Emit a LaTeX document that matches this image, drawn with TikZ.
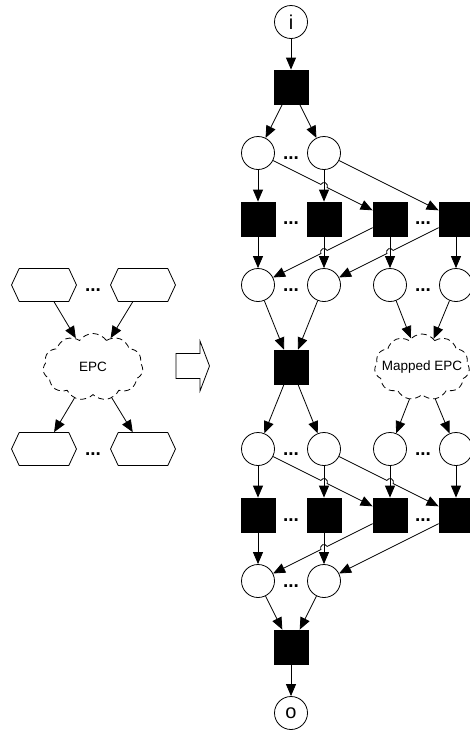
\documentclass[tikz,border=0pt]{standalone}
\usepackage{fontspec}
\setmainfont{Liberation Sans}
\usetikzlibrary{arrows.meta,shapes.symbols,calc}
\newcommand\hoparrow[4]{\draw[arr] let \p1=($(#2)-(#1)$), \n1={atan2(\y1,\x1)} in (#1) -- ($(#3)!3.5pt!(#1)$) arc[start angle=\n1+180, delta angle=#4*180, radius=3.5pt] -- (#2);}
\begin{document}
\begin{tikzpicture}[x=1pt,y=1pt,
 place/.style={circle,draw,line width=0.8pt,minimum size=33pt,inner sep=0pt},
 trans/.style={rectangle,draw,fill=black,line width=0.8pt,minimum size=34pt,inner sep=0pt},
 arr/.style={line width=0.8pt,-{Triangle[length=12pt,width=10pt]}},
 dots/.style={font=\fontsize{19}{19}\selectfont\bfseries,inner sep=0pt},
 hexa/.style={signal,signal to=west and east,signal pointer angle=130,draw,line width=0.8pt,minimum width=65pt,minimum height=33pt,inner sep=0pt},
 epc/.style={cloud,cloud puffs=11,cloud puff arc=110,cloud ignores aspect,draw,dash pattern=on 6pt off 4pt,line width=0.8pt,inner sep=0pt},
 lbl/.style={font=\fontsize{13.5}{16}\selectfont,inner sep=0pt},
 io/.style={font=\fontsize{20}{20}\selectfont}
]
\useasboundingbox (0,0) rectangle (470,-734);

% ---------- left side ----------
\node[hexa] (h1) at (44,-285) {};
\node[hexa] (h2) at (143,-285) {};
\node[dots] (hd1) at (93,-290) {...};
\node[epc,minimum width=100pt,minimum height=67pt] (epc) at (93,-367) {};
\node[lbl] (epclbl) at (epc) {EPC};
\node[hexa] (h3) at (44,-449) {};
\node[hexa] (h4) at (143,-449) {};
\node[dots] (hd2) at (93,-454) {...};
\draw[arr] (h1) -- (epc);
\draw[arr] (h2) -- (epc);
\draw[arr] (epc) -- (h3);
\draw[arr] (epc) -- (h4);

% hollow arrow
\draw[line width=0.8pt] (176,-353.5) -- (200,-353.5) -- (200,-341) -- (209.5,-366) -- (200,-391) -- (200,-378.5) -- (176,-378.5) -- cycle;

% ---------- right side ----------
\node[place,io] (pi) at (291,-22) {i};
\node[trans] (t0) at (291,-87) {};
\node[place] (p1a) at (258,-153) {};
\node[place] (p1b) at (324,-153) {};
\node[dots] (d1) at (291,-158) {...};

\node[trans] (t1a) at (258,-219) {};
\node[trans] (t1b) at (324,-219) {};
\node[trans] (t1c) at (390,-219) {};
\node[trans] (t1d) at (456,-219) {};
\node[dots] (d2) at (291,-223) {...};
\node[dots] (d3) at (423,-223) {...};

\node[place] (p2a) at (258,-285) {};
\node[place] (p2b) at (324,-285) {};
\node[place] (p2c) at (390,-285) {};
\node[place] (p2d) at (456,-285) {};
\node[dots] (d4) at (291,-290) {...};
\node[dots] (d5) at (423,-290) {...};

\node[trans] (tm) at (291,-367) {};
\node[epc,minimum width=95pt,minimum height=66pt] (mepc) at (422,-367) {};
\node[lbl] (mepclbl) at (mepc) {Mapped EPC};

\node[place] (p3a) at (258,-449) {};
\node[place] (p3b) at (324,-449) {};
\node[place] (p3c) at (390,-449) {};
\node[place] (p3d) at (456,-449) {};
\node[dots] (d6) at (291,-454) {...};
\node[dots] (d7) at (423,-454) {...};

\node[trans] (t2a) at (258,-515) {};
\node[trans] (t2b) at (324,-515) {};
\node[trans] (t2c) at (390,-515) {};
\node[trans] (t2d) at (456,-515) {};
\node[dots] (d8) at (291,-520) {...};
\node[dots] (d9) at (423,-520) {...};

\node[place] (p4a) at (258,-581) {};
\node[place] (p4b) at (324,-581) {};
\node[dots] (d10) at (291,-586) {...};

\node[trans] (tf) at (291,-647) {};
\node[place,io] (po) at (291,-713) {o};

% crossing points
\coordinate (x1) at (324,-186);
\coordinate (x2) at (324,-252);
\coordinate (x3) at (390,-252);
\coordinate (x4) at (324,-482);
\coordinate (x5) at (390,-482);
\coordinate (x6) at (324,-548);

% edges
\draw[arr] (pi) -- (t0);
\draw[arr] (t0) -- (p1a);
\draw[arr] (t0) -- (p1b);
\draw[arr] (p1a) -- (t1a);
\draw[arr] (p1b) -- (t1b);
\hoparrow{p1a}{t1c}{x1}{-1}
\draw[arr] (p1b) -- (t1d);
\draw[arr] (t1a) -- (p2a);
\draw[arr] (t1b) -- (p2b);
\draw[arr] (t1c) -- (p2c);
\draw[arr] (t1d) -- (p2d);
\hoparrow{t1c}{p2a}{x2}{1}
\hoparrow{t1d}{p2b}{x3}{1}
\draw[arr] (p2a) -- (tm);
\draw[arr] (p2b) -- (tm);
\draw[arr] (p2c) -- (mepc);
\draw[arr] (p2d) -- (mepc);
\draw[arr] (tm) -- (p3a);
\draw[arr] (tm) -- (p3b);
\draw[arr] (mepc) -- (p3c);
\draw[arr] (mepc) -- (p3d);
\draw[arr] (p3a) -- (t2a);
\draw[arr] (p3b) -- (t2b);
\draw[arr] (p3c) -- (t2c);
\draw[arr] (p3d) -- (t2d);
\hoparrow{p3a}{t2c}{x4}{-1}
\hoparrow{p3b}{t2d}{x5}{-1}
\draw[arr] (t2a) -- (p4a);
\draw[arr] (t2b) -- (p4b);
\hoparrow{t2c}{p4a}{x6}{1}
\draw[arr] (t2d) -- (p4b);
\draw[arr] (p4a) -- (tf);
\draw[arr] (p4b) -- (tf);
\draw[arr] (tf) -- (po);
\end{tikzpicture}
\end{document}
